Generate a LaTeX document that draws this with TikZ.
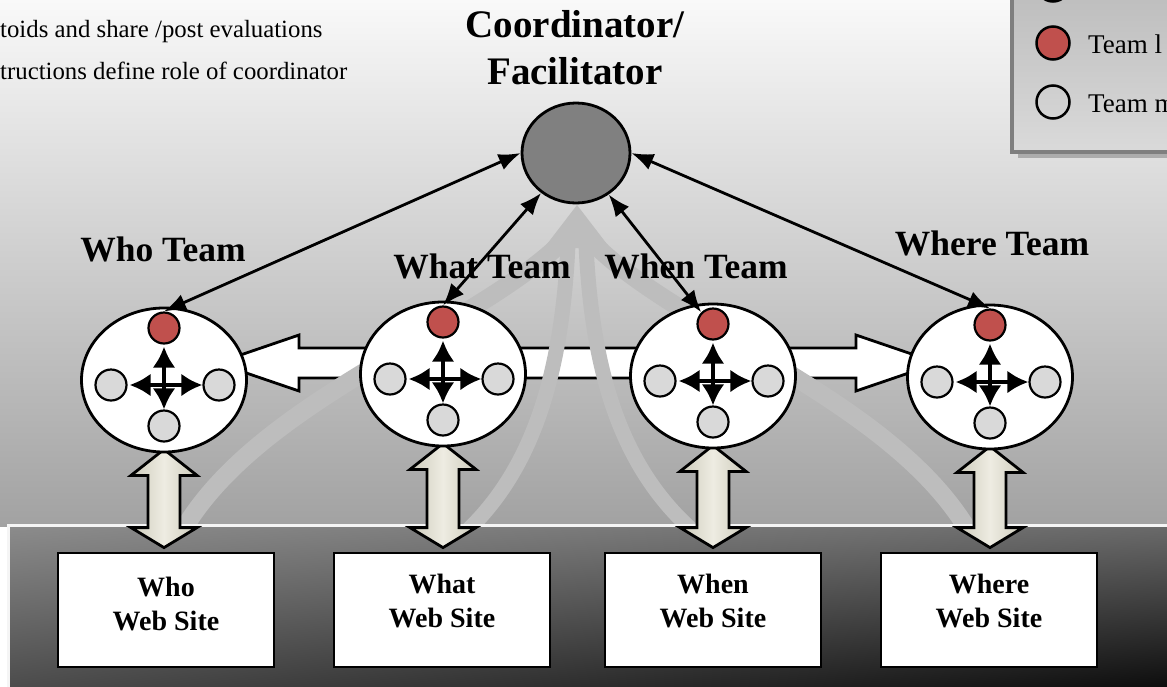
\documentclass[tikz,border=0pt]{standalone}
\usepackage{fontspec}
\setmainfont{Liberation Serif}
\usetikzlibrary{shapes.geometric,arrows.meta,calc,shadings}
\pgfdeclarelayer{back}
\pgfdeclarelayer{mid}
\pgfsetlayers{back,mid,main}
\definecolor{redc}{HTML}{C0504D}
\definecolor{dotg}{HTML}{D9D9D9}
\definecolor{cgray}{HTML}{808080}
\definecolor{bgtop}{HTML}{F9F9F9}
\definecolor{bgbot}{HTML}{A2A2A2}
\definecolor{faint}{HTML}{BDBDBD}
\definecolor{beigeE}{HTML}{CDCBBB}
\definecolor{beigeM}{HTML}{EEECE2}
\definecolor{pUL}{HTML}{8C8C8C}
\definecolor{pUR}{HTML}{6A6A6A}
\definecolor{pLL}{HTML}{4A4A4A}
\definecolor{pLR}{HTML}{0A0A0A}
\definecolor{lgtop}{HTML}{BDBDBD}
\definecolor{lgbot}{HTML}{DADADA}
\definecolor{lgborder}{HTML}{7F7F7F}
\tikzset{
  teamc/.style={ellipse, draw, fill=white, line width=2.8pt, minimum width=165pt, minimum height=144pt, inner sep=0pt},
  coordc/.style={ellipse, draw, fill=cgray, line width=2.8pt, minimum width=108pt, minimum height=100pt, inner sep=0pt},
  leader/.style={circle, draw, fill=redc, line width=2.2pt, minimum size=31pt, inner sep=0pt},
  member/.style={circle, draw, fill=dotg, line width=2.2pt, minimum size=31pt, inner sep=0pt},
  crossarr/.style={line width=4.5pt, >={Latex[length=21pt,width=23pt]}, <->, shorten <=2pt},
  conn/.style={line width=2.8pt, >={Latex[length=22pt,width=17pt]}, <->},
  teamlabel/.style={font=\fontsize{35.5}{40}\selectfont\bfseries, anchor=base, inner sep=0pt},
  titlelabel/.style={font=\fontsize{39}{47}\selectfont\bfseries, anchor=base, inner sep=0pt},
  webbox/.style={rectangle, draw, fill=white, line width=2.8pt, minimum width=216pt, minimum height=114pt, inner sep=0pt},
  webtext/.style={align=center, font=\fontsize{28}{34}\selectfont\bfseries, inner sep=0pt},
  notetext/.style={font=\fontsize{24.8}{30}\selectfont, anchor=base west, inner sep=0pt},
  legtext/.style={font=\fontsize{27}{32}\selectfont, anchor=base west, inner sep=0pt},
  legdot/.style={circle, draw, line width=2.5pt, minimum size=33pt, inner sep=0pt},
  beige/.style={draw=black, line width=2.8pt, line join=miter, left color=beigeE, right color=beigeE, middle color=beigeM},
  faintline/.style={draw=faint, line cap=butt},
}
\newcommand\teamgroup[3]{%
  \node[teamc] (#1) at (#2,#3) {};
  \node[leader] (#1L) at (#2,{#3-52}) {};
  \node[member] (#1W) at ({#2-53},{#3+5}) {};
  \node[member] (#1E) at ({#2+55},{#3+5}) {};
  \node[member] (#1B) at (#2,{#3+46}) {};
  \draw[crossarr] (#1L) -- (#1B);
  \draw[crossarr] (#1W) -- (#1E);
}
\newcommand\beigearrow[2]{%
  \path[beige] let \p1=(#1.south), \p2=(#2.north) in
    (\x1,\y1+4pt) -- (\x1+33pt,\y1-22pt) -- (\x1+16pt,\y1-22pt) -- (\x1+16pt,\y2+24pt)
    -- (\x1+33pt,\y2+24pt) -- (\x1,\y2+4pt) -- (\x1-33pt,\y2+24pt) -- (\x1-16pt,\y2+24pt)
    -- (\x1-16pt,\y1-22pt) -- (\x1-33pt,\y1-22pt) -- cycle;
}
\begin{document}
\begin{tikzpicture}[x=1pt,y=-1pt]
\useasboundingbox (0,0) rectangle (1167,686);
\begin{pgfonlayer}{back}
  \shade[top color=bgtop, bottom color=bgbot] (0,0) rectangle (1167,526);
\end{pgfonlayer}

% notes top left
\node[notetext] (note1) at (0,37) {toids and share /post evaluations};
\node[notetext] (note2) at (0,79) {tructions define role of coordinator};

% title and coordinator
\node[titlelabel] (title1) at (575,37) {Coordinator/};
\node[titlelabel] (title2) at (575,84) {Facilitator};
\node[coordc] (coord) at (576,153) {};

% team labels
\node[teamlabel] (whoLab) at (163,261) {Who Team};
\node[teamlabel] (whatLab) at (482,278) {What Team};
\node[teamlabel] (whenLab) at (696,278) {When Team};
\node[teamlabel] (whereLab) at (992,255) {Where Team};

% web site boxes
\node[webbox] (whoS) at (166,610) {};
\node[webbox] (whatS) at (442,610) {};
\node[webbox] (whenS) at (713,610) {};
\node[webbox] (whereS) at (989,610) {};
\node[webtext] (whoT) at (166,604) {Who\\Web Site};
\node[webtext] (whatT) at (442,601) {What\\Web Site};
\node[webtext] (whenT) at (713,601) {When\\Web Site};
\node[webtext] (whereT) at (989,601) {Where\\Web Site};

% teams
\teamgroup{who}{164}{380}
\teamgroup{what}{443}{374}
\teamgroup{when}{713}{376}
\teamgroup{where}{990}{377}

% connectors coordinator <-> leaders
\draw[conn] (coord.west) -- (whoL.north);
\draw[conn] (coord) -- (whatL.north);
\draw[conn] (coord) -- (whenL.north west);
\draw[conn] (coord.east) -- (whereL.north);

% back layer: horizontal block arrow, faint arrows, panel
\begin{pgfonlayer}{back}
  \path[draw=black, fill=white, line width=2.8pt, line join=miter] let \p1=(who.center), \p2=(where.center) in
    (\x1+53pt,\y1+17pt) -- (\x1+135pt,\y1+45pt) -- (\x1+135pt,\y1+32pt) -- (\x2-134pt,\y1+32pt)
    -- (\x2-134pt,\y1+45pt) -- (\x2-52pt,\y1+17pt) -- (\x2-134pt,\y1-11pt) -- (\x2-134pt,\y1+2pt)
    -- (\x1+135pt,\y1+2pt) -- (\x1+135pt,\y1-11pt) -- cycle;
  \fill[faint] (577,205) -- (610,248) -- (544,248) -- cycle;
  \draw[faintline, line width=18pt] (183,530) .. controls (260,400) and (470,330) .. (560,244);
  \draw[faintline, line width=15pt] (468,530) .. controls (530,470) and (562,380) .. (568,244);
  \draw[faintline, line width=15pt] (692,530) .. controls (625,470) and (592,380) .. (586,244);
  \draw[faintline, line width=18pt] (968,530) .. controls (890,400) and (680,330) .. (594,244);
  \shade[upper left=pUL, upper right=pUR, lower left=pLL, lower right=pLR] (8,525) rectangle (1175,692);
  \draw[white!92!gray, line width=3pt] (8,692) -- (8,525) -- (1175,525);
\end{pgfonlayer}

% beige double arrows
\begin{pgfonlayer}{mid}
  \beigearrow{who}{whoS}
  \beigearrow{what}{whatS}
  \beigearrow{when}{whenS}
  \beigearrow{where}{whereS}
\end{pgfonlayer}

% legend
\begin{scope}
  \clip (0,0) rectangle (1167,686);
  \fill[gray!65] (1018,-10) rectangle (1185,158);
  \path[draw=lgborder, line width=3.5pt, top color=lgtop, bottom color=lgbot] (1012,-10) rectangle (1185,152);
  \node[legdot, fill=cgray] (lgC) at (1053,-15) {};
  \node[legdot, fill=redc] (lgL) at (1053,43) {};
  \node[legdot] (lgM) at (1053,102) {};
  \node[legtext] (lgLt) at (1088,53) {Team l};
  \node[legtext] (lgMt) at (1088,112) {Team m};
\end{scope}
\end{tikzpicture}
\end{document}
